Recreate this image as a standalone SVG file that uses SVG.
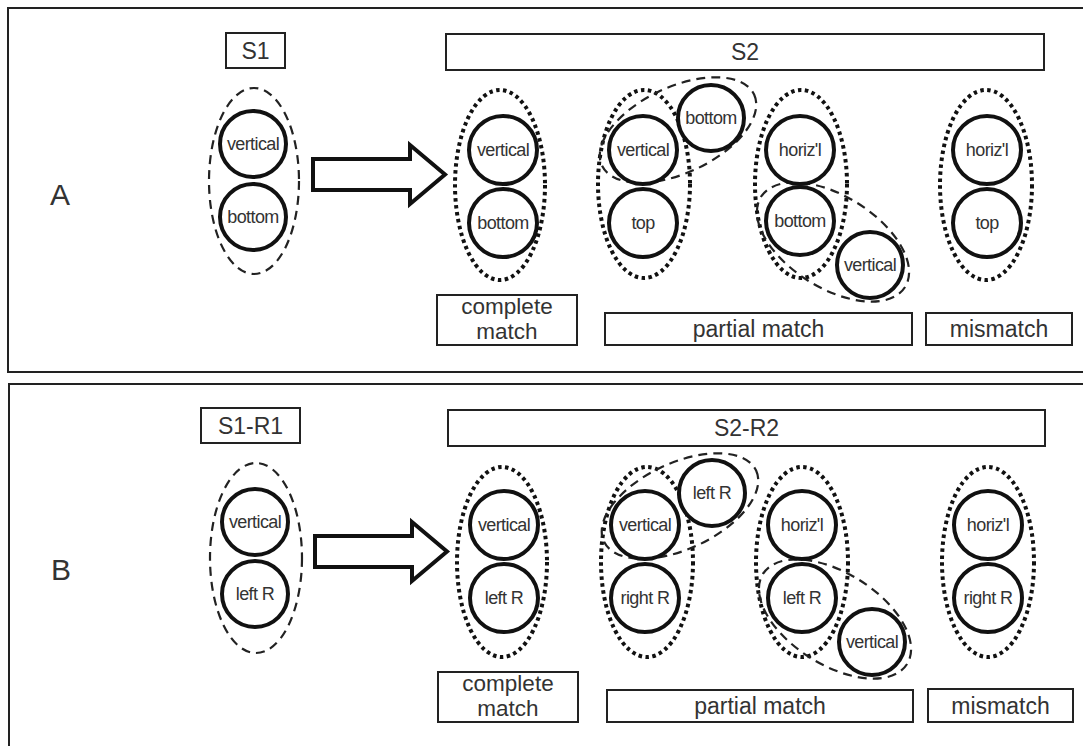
<svg xmlns="http://www.w3.org/2000/svg" width="1083" height="746" viewBox="0 0 1083 746">
<style>
.panel{fill:none;stroke:#222;stroke-width:2}
.box{fill:#fff;stroke:#222;stroke-width:2}
.dot{fill:none;stroke:#111;stroke-width:4;stroke-dasharray:3.5 3.5}
.dash{fill:none;stroke:#222;stroke-width:2.2;stroke-dasharray:9 6}
.c{fill:#fff;stroke:#111;stroke-width:4}
.ct{font-family:"Liberation Sans",Arial,sans-serif;font-size:18px;fill:#333;text-anchor:middle;letter-spacing:-0.6px}
.bt{font-family:"Liberation Sans",Arial,sans-serif;font-size:23px;fill:#333;text-anchor:middle}
.bt2{font-family:"Liberation Sans",Arial,sans-serif;font-size:22.5px;fill:#333;text-anchor:middle}
.lt{font-family:"Liberation Sans",Arial,sans-serif;font-size:30px;fill:#333;text-anchor:middle}
.arrow{fill:#fff;stroke:#111;stroke-width:4;stroke-linejoin:miter}
</style>
<rect width="1083" height="746" fill="#fff"/>
<rect class="panel" x="8" y="8" width="1090" height="364"/>
<rect class="panel" x="9" y="384" width="1090" height="380"/>

<!-- Panel A -->
<g id="labelA"><text class="lt" x="60" y="205">A</text></g>
<g id="A-S1"><rect class="box" x="226" y="33" width="59" height="35"/><text class="bt" x="255.5" y="59">S1</text></g>
<g id="A-S2"><rect class="box" x="446" y="34" width="598" height="36"/><text class="bt" x="745" y="60">S2</text></g>
<g id="A-complete"><rect class="box" x="437" y="295" width="140" height="50"/><text class="bt2" x="507" y="314">complete</text><text class="bt2" x="507" y="339">match</text></g>
<g id="A-partial"><rect class="box" x="605" y="313" width="307" height="32"/><text class="bt" x="758.5" y="337">partial match</text></g>
<g id="A-mismatch"><rect class="box" x="926" y="313" width="146" height="32"/><text class="bt" x="999" y="337">mismatch</text></g>

<g id="connectors">
<polygon class="arrow" points="313,159 410,159 410,145 445,174.5 410,204 410,190 313,190"/>
<polygon class="arrow" points="315,536 412,536 412,522 447,551.5 412,581 412,567 315,567"/>
</g>

<g id="A-S1-group">
<ellipse class="dash" cx="254" cy="181" rx="45" ry="93"/>
<circle class="c" cx="253" cy="144" r="33"/><text class="ct" x="253" y="150">vertical</text>
<circle class="c" cx="253" cy="217" r="33"/><text class="ct" x="253" y="223">bottom</text>
</g>
<g id="A-complete-group">
<ellipse class="dot" cx="500" cy="185" rx="45" ry="95"/>
<circle class="c" cx="503" cy="150" r="34"/><text class="ct" x="503" y="156">vertical</text>
<circle class="c" cx="503" cy="223" r="34"/><text class="ct" x="503" y="229">bottom</text>
</g>
<g id="A-partial1">
<ellipse class="dot" cx="644" cy="184" rx="46" ry="94"/>
<ellipse class="dash" cx="678" cy="130" rx="84" ry="43" transform="rotate(-25 678 130)"/>
<circle class="c" cx="643" cy="150" r="34"/><text class="ct" x="643" y="156">vertical</text>
<circle class="c" cx="643" cy="223" r="34"/><text class="ct" x="643" y="229">top</text>
<circle class="c" cx="711" cy="118" r="33"/><text class="ct" x="711" y="124">bottom</text>
</g>
<g id="A-partial2">
<ellipse class="dot" cx="801" cy="184" rx="46" ry="94"/>
<ellipse class="dash" cx="833" cy="242" rx="85" ry="46" transform="rotate(32 833 242)"/>
<circle class="c" cx="800" cy="150" r="34"/><text class="ct" x="800" y="156">horiz'l</text>
<circle class="c" cx="800" cy="221" r="34"/><text class="ct" x="800" y="227">bottom</text>
<circle class="c" cx="870" cy="265" r="33"/><text class="ct" x="870" y="271">vertical</text>
</g>
<g id="A-mismatch-group">
<ellipse class="dot" cx="986" cy="185" rx="46" ry="95"/>
<circle class="c" cx="987" cy="150" r="34"/><text class="ct" x="987" y="156">horiz'l</text>
<circle class="c" cx="987" cy="223" r="34"/><text class="ct" x="987" y="229">top</text>
</g>

<!-- Panel B -->
<g id="labelB"><text class="lt" x="61" y="580">B</text></g>
<g id="B-S1R1"><rect class="box" x="201" y="408" width="99" height="35"/><text class="bt" x="250.5" y="434">S1-R1</text></g>
<g id="B-S2R2"><rect class="box" x="448" y="410" width="597" height="36"/><text class="bt" x="746.5" y="436">S2-R2</text></g>
<g id="B-complete"><rect class="box" x="438" y="672" width="140" height="50"/><text class="bt2" x="508" y="691">complete</text><text class="bt2" x="508" y="716">match</text></g>
<g id="B-partial"><rect class="box" x="607" y="690" width="306" height="32"/><text class="bt" x="760" y="714">partial match</text></g>
<g id="B-mismatch"><rect class="box" x="928" y="689" width="145" height="33"/><text class="bt" x="1000.5" y="714">mismatch</text></g>

<g id="B-S1-group">
<ellipse class="dash" cx="256" cy="558" rx="46" ry="95"/>
<circle class="c" cx="255" cy="522" r="33"/><text class="ct" x="255" y="528">vertical</text>
<circle class="c" cx="255" cy="594" r="33"/><text class="ct" x="255" y="600">left R</text>
</g>
<g id="B-complete-group">
<ellipse class="dot" cx="502" cy="562" rx="45" ry="95"/>
<circle class="c" cx="504" cy="525" r="34"/><text class="ct" x="504" y="531">vertical</text>
<circle class="c" cx="504" cy="598" r="34"/><text class="ct" x="504" y="604">left R</text>
</g>
<g id="B-partial1">
<ellipse class="dot" cx="647" cy="562" rx="46" ry="95"/>
<ellipse class="dash" cx="680" cy="506" rx="84" ry="43" transform="rotate(-25 680 506)"/>
<circle class="c" cx="645" cy="525" r="34"/><text class="ct" x="645" y="531">vertical</text>
<circle class="c" cx="645" cy="598" r="34"/><text class="ct" x="645" y="604">right R</text>
<circle class="c" cx="712" cy="493" r="33"/><text class="ct" x="712" y="499">left R</text>
</g>
<g id="B-partial2">
<ellipse class="dot" cx="802" cy="562" rx="46" ry="95"/>
<ellipse class="dash" cx="835" cy="619" rx="85" ry="46" transform="rotate(32 835 619)"/>
<circle class="c" cx="802" cy="525" r="34"/><text class="ct" x="802" y="531">horiz'l</text>
<circle class="c" cx="802" cy="598" r="34"/><text class="ct" x="802" y="604">left R</text>
<circle class="c" cx="872" cy="642" r="33"/><text class="ct" x="872" y="648">vertical</text>
</g>
<g id="B-mismatch-group">
<ellipse class="dot" cx="988" cy="562" rx="46" ry="95"/>
<circle class="c" cx="988" cy="525" r="34"/><text class="ct" x="988" y="531">horiz'l</text>
<circle class="c" cx="988" cy="598" r="34"/><text class="ct" x="988" y="604">right R</text>
</g>
</svg>
